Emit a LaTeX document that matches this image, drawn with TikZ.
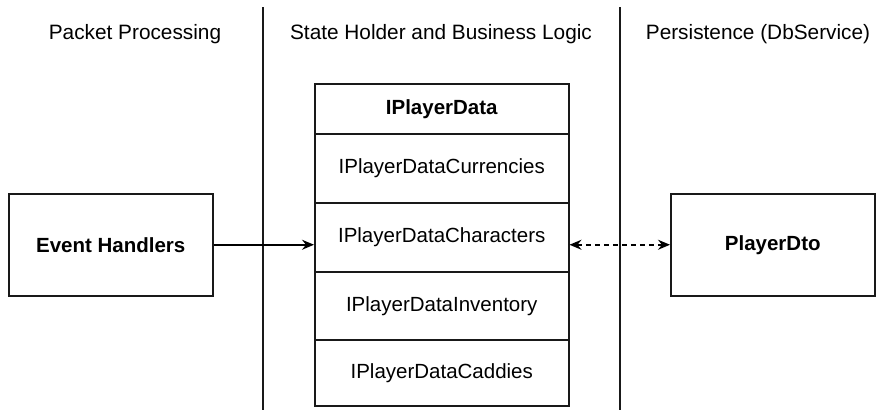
\documentclass[tikz,border=0pt]{standalone}
\usepackage{fontspec}
\setmainfont{Liberation Sans}
\usetikzlibrary{arrows.meta}
\begin{document}
\begin{tikzpicture}[x=1pt,y=-1pt,
  line width=1.5pt,
  header/.style={font=\fontsize{20.8}{24}\selectfont, anchor=center},
  box/.style={draw=black!90, line width=1.5pt},
  rowtext/.style={font=\fontsize{20.5}{24}\selectfont},
  boldtext/.style={font=\fontsize{20.5}{24}\selectfont\bfseries},
  divider/.style={draw=black!90, line width=1.5pt},
  tip/.style={-{Stealth[length=12pt,width=10pt,inset=4pt]}},
  dtip/.style={{Stealth[length=12pt,width=10pt,inset=4pt]}-{Stealth[length=12pt,width=10pt,inset=4pt]}, dash pattern=on 5pt off 4pt}
]
\useasboundingbox (0,0) rectangle (888,410);

% column headers
\node[header] (hPacket) at (135,34) {Packet Processing};
\node[header] (hState) at (441,34) {State Holder and Business Logic};
\node[header] (hPersist) at (758,34) {Persistence (DbService)};

% column dividers
\coordinate (d1top) at (263,7);
\coordinate (d1bot) at (263,410);
\coordinate (d2top) at (620,7);
\coordinate (d2bot) at (620,410);
\draw[divider] (d1top) -- (d1bot);
\draw[divider] (d2top) -- (d2bot);

% IPlayerData stack
\node[box, minimum width=254pt, minimum height=50pt, boldtext, anchor=north west] (pd) at (314,83) {IPlayerData};
\node[box, minimum width=254pt, minimum height=69pt, rowtext, anchor=north west] (cur) at (314,133) {IPlayerDataCurrencies};
\node[box, minimum width=254pt, minimum height=69pt, rowtext, anchor=north west] (chr) at (314,202) {IPlayerDataCharacters};
\node[box, minimum width=254pt, minimum height=68pt, rowtext, anchor=north west] (inv) at (314,271) {IPlayerDataInventory};
\node[box, minimum width=254pt, minimum height=66pt, rowtext, anchor=north west] (cad) at (314,339) {IPlayerDataCaddies};

% side boxes
\node[box, minimum width=204pt, minimum height=102pt, boldtext, anchor=north west] (ev) at (8,193) {Event Handlers};
\node[box, minimum width=204pt, minimum height=102pt, boldtext, anchor=north west] (dto) at (670,193) {PlayerDto};

% connectors, level with the side boxes' centres
\draw[tip] (ev.east) -- (ev.east -| chr.west);
\draw[dtip] (dto.west -| chr.east) -- (dto.west);
\end{tikzpicture}
\end{document}
